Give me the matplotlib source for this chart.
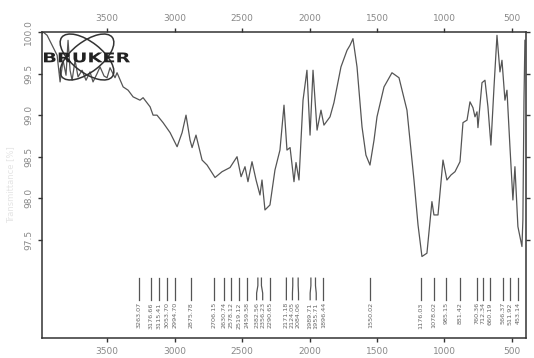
import matplotlib
matplotlib.use('Agg')
import matplotlib.pyplot as plt
from matplotlib.patches import Ellipse, PathPatch
from matplotlib.textpath import TextPath
from matplotlib.font_manager import FontProperties
from matplotlib.transforms import Affine2D

# spectrum (wavenumber cm-1, transmittance %)
wavenumber = [3985, 3974, 3944, 3907, 3870, 3848, 3826, 3804, 3789, 3774, 3759, 3737,
              3715, 3685, 3656, 3626, 3604, 3574, 3552, 3522, 3500, 3478, 3441, 3426,
              3381, 3344, 3307, 3256, 3233, 3181, 3159, 3130, 3085, 3033, 2981, 2944,
              2915, 2885, 2870, 2841, 2796, 2759, 2700, 2648, 2589, 2537, 2507, 2478,
              2456, 2426, 2396, 2367, 2352, 2330, 2293, 2256, 2219, 2189, 2167, 2144,
              2115, 2100, 2078, 2048, 2019, 1996, 1974, 1944, 1915, 1893, 1848, 1819,
              1767, 1722, 1700, 1678, 1648, 1611, 1582, 1552, 1522, 1500, 1448, 1389,
              1337, 1278, 1226, 1196, 1167, 1130, 1093, 1078, 1048, 1011, 982, 952,
              922, 885, 863, 833, 811, 789, 774, 759, 752, 722, 700, 678,
              656, 633, 611, 589, 574, 552, 537, 515, 493, 478, 456, 426,
              419, 411, 404]
transmittance = [99.98, 100.0, 99.96, 99.84, 99.72, 99.40, 99.66, 99.48, 99.90, 99.54, 99.42, 99.66,
                 99.46, 99.54, 99.42, 99.52, 99.40, 99.50, 99.58, 99.47, 99.45, 99.57, 99.45, 99.51,
                 99.34, 99.30, 99.22, 99.18, 99.21, 99.10, 99.00, 99.00, 98.91, 98.79, 98.62, 98.79,
                 99.00, 98.70, 98.61, 98.76, 98.46, 98.40, 98.25, 98.32, 98.37, 98.50, 98.26, 98.38,
                 98.20, 98.44, 98.22, 98.04, 98.22, 97.86, 97.92, 98.34, 98.58, 99.12, 98.58, 98.61,
                 98.20, 98.43, 98.22, 99.18, 99.54, 98.76, 99.54, 98.82, 99.06, 98.88, 98.98, 99.15,
                 99.58, 99.78, 99.84, 99.92, 99.58, 98.86, 98.52, 98.40, 98.70, 98.98, 99.34, 99.51,
                 99.45, 99.06, 98.22, 97.68, 97.30, 97.34, 97.96, 97.80, 97.80, 98.46, 98.22, 98.28,
                 98.32, 98.44, 98.91, 98.94, 99.16, 99.09, 98.98, 99.04, 98.85, 99.39, 99.42, 99.10,
                 98.64, 99.34, 99.96, 99.52, 99.66, 99.18, 99.30, 98.62, 97.98, 98.38, 97.66, 97.42,
                 97.74, 99.18, 99.90]

# picked peaks
peaks = [3263.07, 3176.66, 3115.41, 3053.70, 2994.70, 2875.78, 2706.15, 2630.74,
         2578.12, 2519.12, 2459.58, 2382.56, 2356.23, 2290.65, 2171.18, 2124.05,
         2084.06, 1989.71, 1955.71, 1896.44, 1550.02, 1176.03, 1078.02, 985.15,
         881.42, 760.36, 712.34, 660.19, 566.37, 511.92, 453.14]

xticks = [3500, 3000, 2500, 2000, 1500, 1000, 500]
yticks = [97.5, 98.0, 98.5, 99.0, 99.5, 100.0]

fig = plt.figure(figsize=(5.34, 3.58), dpi=100)
ax = fig.add_axes([42 / 534, 1 - 338 / 358, 484 / 534, 306 / 358])

ax.plot(wavenumber, transmittance, color='#555555', lw=0.9)
ax.set_xlim(3982, 396)
ax.set_ylim(96.32, 100.0)

ax.set_xticks(xticks)
ax.set_yticks(yticks)
ax.set_yticklabels(['%.1f' % v for v in yticks], rotation=90, va='center')
ax.tick_params(direction='out', length=3, width=1, colors='#333333',
               labelcolor='#888888', labelsize=6.5,
               top=True, labeltop=True, right=True, labelright=False)
for s in ax.spines.values():
    s.set_color('#333333')
    s.set_linewidth(1.1)

ax.set_ylabel('Transmittance [%]', color='#e4e4e4', fontsize=6, labelpad=6)

# spread the peak labels so they don't overlap, bend the leader lines
gap = 45
pos = list(peaks)
for _ in range(300):
    for i in range(len(pos) - 1):
        d = pos[i] - pos[i + 1]
        if d < gap:
            sh = (gap - d) / 2
            pos[i] += sh
            pos[i + 1] -= sh

for wn, lx in zip(peaks, pos):
    ax.plot([wn, wn, lx, lx], [97.04, 96.95, 96.86, 96.78], color='#555555', lw=0.9)
    ax.text(lx, 96.75, '%.2f' % wn, rotation=90, ha='center', va='top',
            fontsize=4.6, color='#666666')

# Bruker logo
tr = fig.dpi_scale_trans
for ang in (38, -38):
    fig.add_artist(Ellipse((0.87, 3.01), 0.64, 0.30, angle=ang, transform=tr,
                           fill=False, ec='#333333', lw=1.1))
tp = TextPath((0, 0), 'BRUKER', size=10, prop=FontProperties(family='DejaVu Sans', weight='bold'))
ext = tp.get_extents()
t = Affine2D().translate(-ext.x0, -ext.y0).scale(0.86 / ext.width, 0.10 / ext.height).translate(0.44, 2.955)
fig.add_artist(PathPatch(t.transform_path(tp), transform=tr, fc='#222222', ec='none'))

fig.savefig('out.png', dpi=100)
